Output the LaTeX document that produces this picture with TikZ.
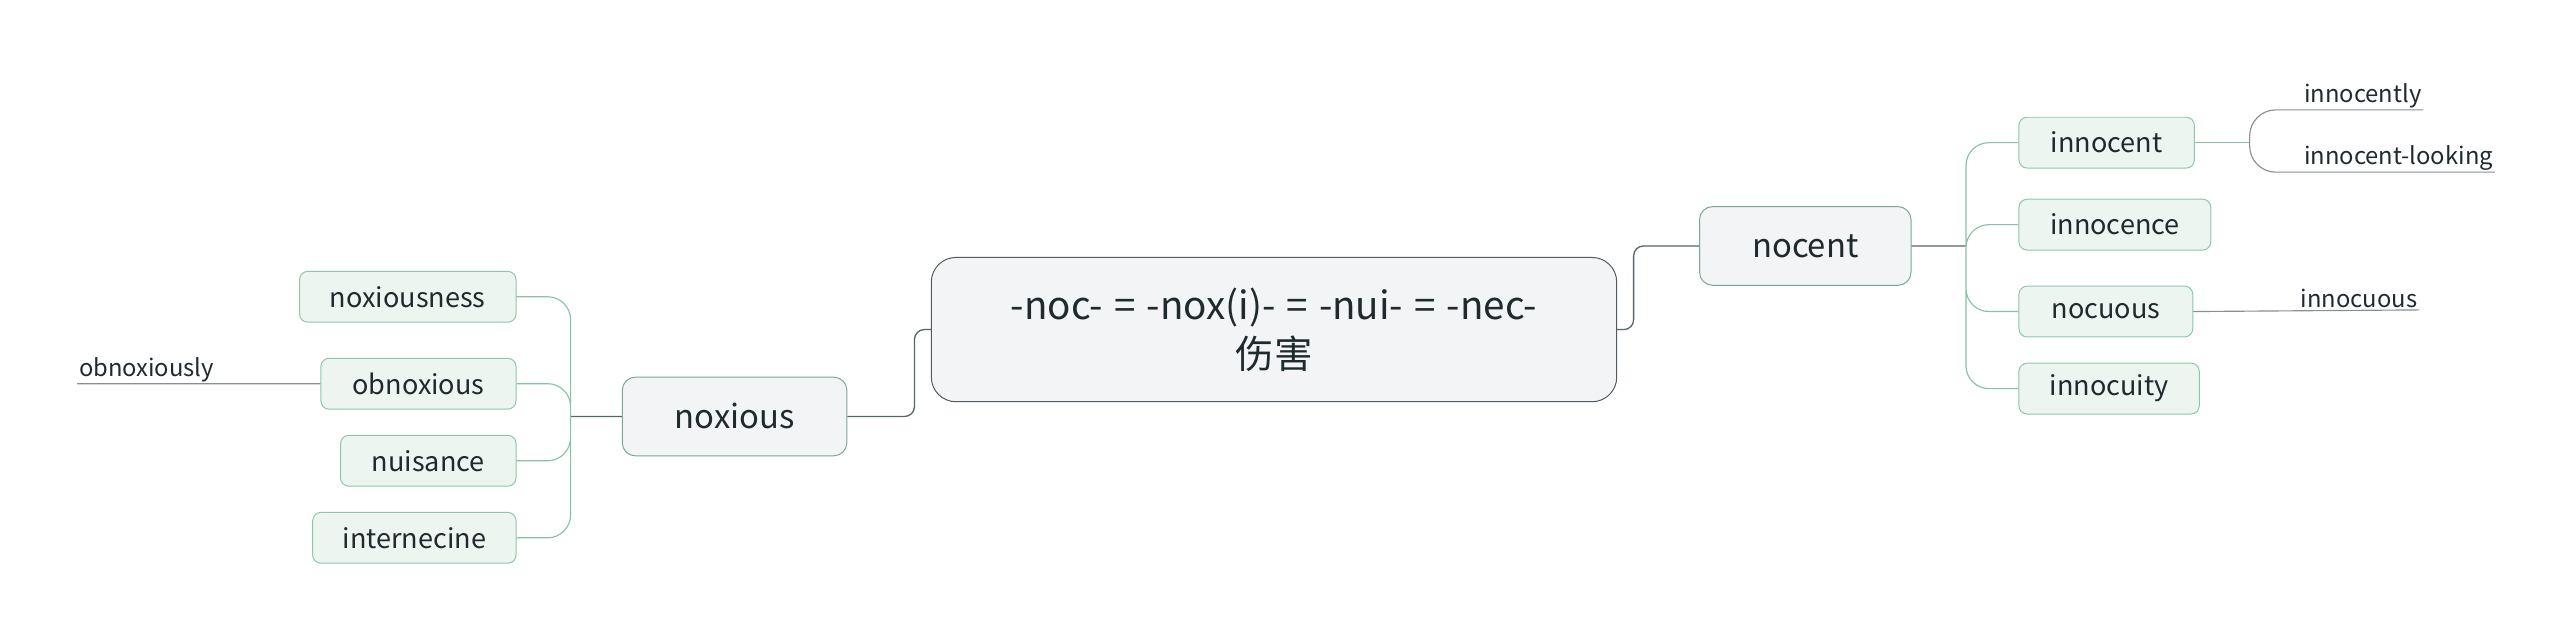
\documentclass[tikz,border=0pt]{standalone}
\usepackage{fontspec}
\setmainfont{Noto Sans CJK SC}
\usetikzlibrary{positioning}
\definecolor{rootfill}{HTML}{F2F4F5}
\definecolor{rootdraw}{HTML}{4F5B60}
\definecolor{subfill}{HTML}{EDF5F0}
\definecolor{subdraw}{HTML}{8CC7AA}
\definecolor{branch}{HTML}{86C3A5}
\definecolor{trunk}{HTML}{56666B}
\definecolor{rule}{HTML}{8A8F91}
\definecolor{ink}{HTML}{1F2A2E}
\newcommand{\eqgap}{\hspace{1.5pt}}
\begin{document}
\begin{tikzpicture}[x=1pt,y=-1pt]
                \tikzstyle{root} = [shape=rectangle, rounded corners=15pt, fill=rootfill, draw=rootdraw, line width=0.6pt, minimum width=418pt, minimum height=88pt, align=center, text=ink, font=\fontsize{23.5}{30}\selectfont];
                \tikzstyle{topic} = [shape=rectangle, rounded corners=8pt, fill=rootfill, draw=subdraw!70!rootdraw, line width=0.6pt, minimum height=48pt, text=ink, font=\fontsize{20}{24}\selectfont];
                \tikzstyle{sub} = [shape=rectangle, rounded corners=5pt, fill=subfill, draw=subdraw, line width=0.6pt, minimum height=31pt, text=ink, font=\fontsize{16.5}{20}\selectfont];
                \tikzstyle{leaf} = [inner sep=1pt, anchor=south west, text=ink, font=\fontsize{14.5}{17}\selectfont];

                \useasboundingbox (0,0) rectangle (1568,389);

                \node[root](ROOT) at (777,201) {-noc- \eqgap=\eqgap{} -nox(i)- \eqgap=\eqgap{} -nui- \eqgap=\eqgap{} -nec-\\伤害};
                \node[topic, minimum width=129pt](NOCENT) at (1101,150) {nocent};
                \node[topic, minimum width=137pt](NOXIOUS) at (448,254) {noxious};

                \node[sub, anchor=west, minimum width=107pt](INNOCENT) at (1231,87) {innocent};
                \node[sub, anchor=west, minimum width=117pt](INNOCENCE) at (1231,137) {innocence};
                \node[sub, anchor=west, minimum width=106pt](NOCUOUS) at (1231,190) {nocuous};
                \node[sub, anchor=west, minimum width=110pt](INNOCUITY) at (1231,237) {innocuity};

                \node[sub, anchor=east, minimum width=132pt](NOXIOUSNESS) at (315,181) {noxiousness};
                \node[sub, anchor=east, minimum width=119pt](OBNOXIOUS) at (315,234) {obnoxious};
                \node[sub, anchor=east, minimum width=107pt](NUISANCE) at (315,281) {nuisance};
                \node[sub, anchor=east, minimum width=124pt](INTERNECINE) at (315,328) {internecine};

                \node[leaf](INNOCENTLY) at (1404,67) {innocently};
                \node[leaf](LOOKING) at (1404,105) {innocent-looking};
                \node[leaf](INNOCUOUS) at (1402,189) {innocuous};
                \node[leaf](OBNOXIOUSLY) at (47,234) {obnoxiously};

                \coordinate (JR) at (1199,150);
                \coordinate (JL) at (348,254);
                \coordinate (JI) at (1372,87);

                \draw[trunk, line width=0.8pt, rounded corners=6pt]
                    (ROOT.east) -- ++(10,0) |- (NOCENT.west)
                    (ROOT.west) -- ++(-10,0) |- (NOXIOUS.east)
                    (NOCENT.east) -- (JR)
                    (NOXIOUS.west) -- (JL)
                ;
                \draw[branch, line width=0.7pt, rounded corners=14pt]
                    (JR) |- (INNOCENT.west)
                    (JR) |- (INNOCENCE.west)
                    (JR) |- (NOCUOUS.west)
                    (JR) |- (INNOCUITY.west)
                    (JL) |- (NOXIOUSNESS.east)
                    (JL) |- (OBNOXIOUS.east)
                    (JL) |- (NUISANCE.east)
                    (JL) |- (INTERNECINE.east)
                ;
                \draw[branch, line width=0.7pt]
                    (INNOCENT.east) -- (JI)
                ;
                \draw[rule, line width=0.7pt, rounded corners=16pt]
                    (JI) |- (INNOCENTLY.south east)
                    (JI) |- (LOOKING.south east)
                ;
                \draw[rule, line width=0.7pt]
                    (NOCUOUS.east) -- (INNOCUOUS.south east)
                    (OBNOXIOUS.west) -- (OBNOXIOUSLY.south west)
                ;
            \end{tikzpicture}
\end{document}
